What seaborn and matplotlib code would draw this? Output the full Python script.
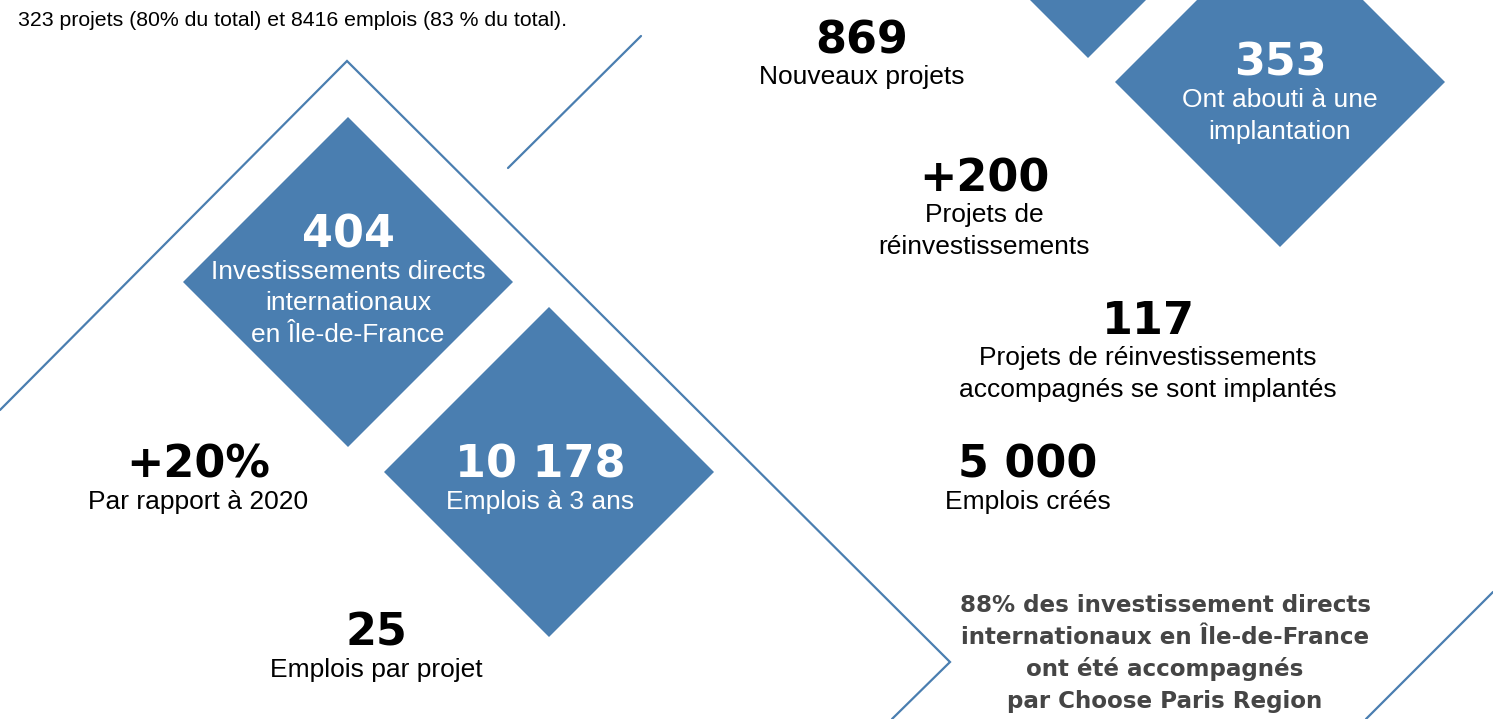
import matplotlib
matplotlib.use("Agg")
import matplotlib.pyplot as plt
import numpy as np
import seaborn as sns

# key figures shown on the infographic
values = ["869", "353", "+200", "117", "404", "+20%", "10 178", "5 000", "25"]
captions = [
    ["Nouveaux projets"],
    ["Ont abouti à une", "implantation"],
    ["Projets de", "réinvestissements"],
    ["Projets de réinvestissements", "accompagnés se sont implantés"],
    ["Investissements directs", "internationaux", "en Île-de-France"],
    ["Par rapport à 2020"],
    ["Emplois à 3 ans"],
    ["Emplois créés"],
    ["Emplois par projet"],
]
on_diamond = [False, True, False, False, True, False, True, False, False]
intro_text = "323 projets (80% du total) et 8416 emplois (83 % du total)."
footnote = ["88% des investissement directs",
            "internationaux en Île-de-France",
            "ont été accompagnés",
            "par Choose Paris Region"]

# layout (pixel coordinates, y downwards)
W, H = 1493, 719
text_pos = [(862, 37), (1280, 60), (984, 175), (1148, 318), (348, 232),
            (198, 462), (540, 462), (1028, 462), (376, 630)]
diamonds = [(1088, -107), (1280, 82), (348, 282), (549, 472)]
half = 165
outline = [(0, 410), (347, 61), (950, 662), (892, 719)]
segments = [[(508, 168), (641, 36)], [(1493, 592), (1366, 719)]]

blue = "#4a7eb0"
sns.set_theme(style="white")
plt.rcParams["font.family"] = ["Liberation Sans", "DejaVu Sans"]

fig = plt.figure(figsize=(W / 100, H / 100), dpi=100)
ax = fig.add_axes([0, 0, 1, 1])
ax.set_xlim(0, W)
ax.set_ylim(H, 0)
ax.axis("off")

# blue diamonds
for cx, cy in diamonds:
    ax.fill([cx, cx + half, cx, cx - half], [cy - half, cy, cy + half, cy],
            color=blue, lw=0, zorder=1)

# thin outline strokes
ox, oy = zip(*outline)
ax.plot(ox, oy, color=blue, lw=1.6, zorder=0, solid_joinstyle="miter")
for seg in segments:
    sx, sy = zip(*seg)
    ax.plot(sx, sy, color=blue, lw=1.6, zorder=0)

for val, caps, (x, y), white in zip(values, captions, text_pos, on_diamond):
    col = "white" if white else "black"
    ax.text(x, y + 16, val, ha="center", va="baseline", fontsize=32,
            fontweight="bold", family="DejaVu Sans", color=col, zorder=3)
    for i, line in enumerate(caps):
        ax.text(x, y + 47 + i * 31.5, line, ha="center", va="baseline",
                fontsize=19, color=col, zorder=3)

ax.text(18, 26, intro_text, ha="left", va="baseline", fontsize=15.3,
        color="black")

for i, line in enumerate(footnote):
    ax.text(1165, 612 + i * 32, line, ha="center", va="baseline",
            fontsize=16.6, fontweight="bold", family="DejaVu Sans",
            color="#454545")

fig.savefig("out.png", dpi=100)
